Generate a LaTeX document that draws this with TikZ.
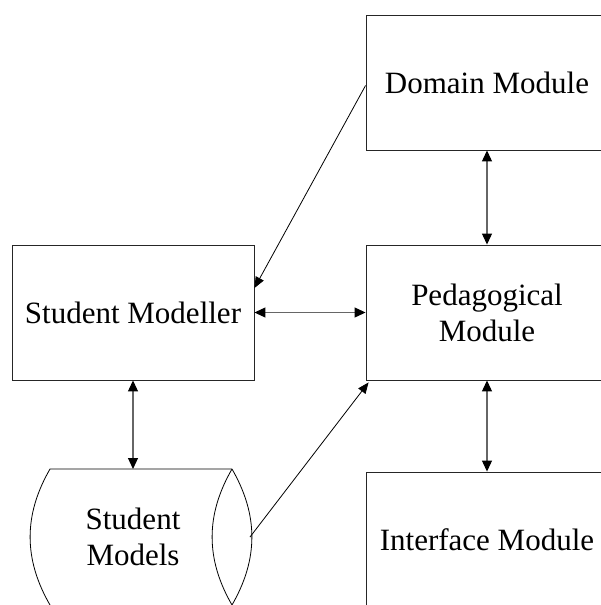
\documentclass[tikz,border=0pt]{standalone}
\usepackage{fontspec}
\setmainfont{Liberation Serif}
\usetikzlibrary{arrows.meta}
\tikzset{
  modbox/.style={draw=black!85, line width=0.9pt, minimum width=242pt, minimum height=135pt,
    inner sep=0pt, align=center, font=\fontsize{31}{36}\selectfont},
  dblarrow/.style={draw=black!60, line width=1.1pt, {Triangle[length=11pt,width=10pt,black]}-{Triangle[length=11pt,width=10pt,black]}},
  onearrow/.style={draw=black, line width=0.8pt, -{Triangle[length=11pt,width=9pt]}},
}

\begin{document}
\begin{tikzpicture}[x=1pt,y=-1pt]
			%%%%% START %%%%%
			\useasboundingbox (0,0) rectangle (600,605);
			
			\node[modbox] (dom) at (487, 82.5) {Domain Module};
			\node[modbox] (ped) at (487, 312.5) {Pedagogical\\Module};
			\node[modbox] (itf) at (487, 539.5) {Interface Module};
			\node[modbox] (smod) at (133, 312.5) {Student Modeller};
			
			% store of student models
			\node[align=center, font=\fontsize{31}{36}\selectfont] (sms) at (133, 537) {Student\\Models};
			\coordinate (smt) at (133, 469);
			\coordinate (smr) at (250, 537);
			\draw[line width=0.8pt] (232, 469) -- (50, 469) to[bend right=30] (50, 605);
			\draw[line width=0.8pt] (232, 469) to[bend left=30] (232, 605) to[bend left=30] (232, 469);
			
			\draw[dblarrow] (dom) -- (ped);
			\draw[dblarrow] (ped) -- (itf);
			\draw[dblarrow] (smod) -- (ped);
			\draw[dblarrow] (smod) -- (smt);
			
			\draw[onearrow] ([yshift=-3pt]dom.west) -- ([yshift=24.5pt]smod.east);
			\draw[onearrow] (smr) -- ([xshift=3pt,yshift=-2pt]ped.south west);
			
			%%%%% END %%%%%
\end{tikzpicture}
\end{document}
